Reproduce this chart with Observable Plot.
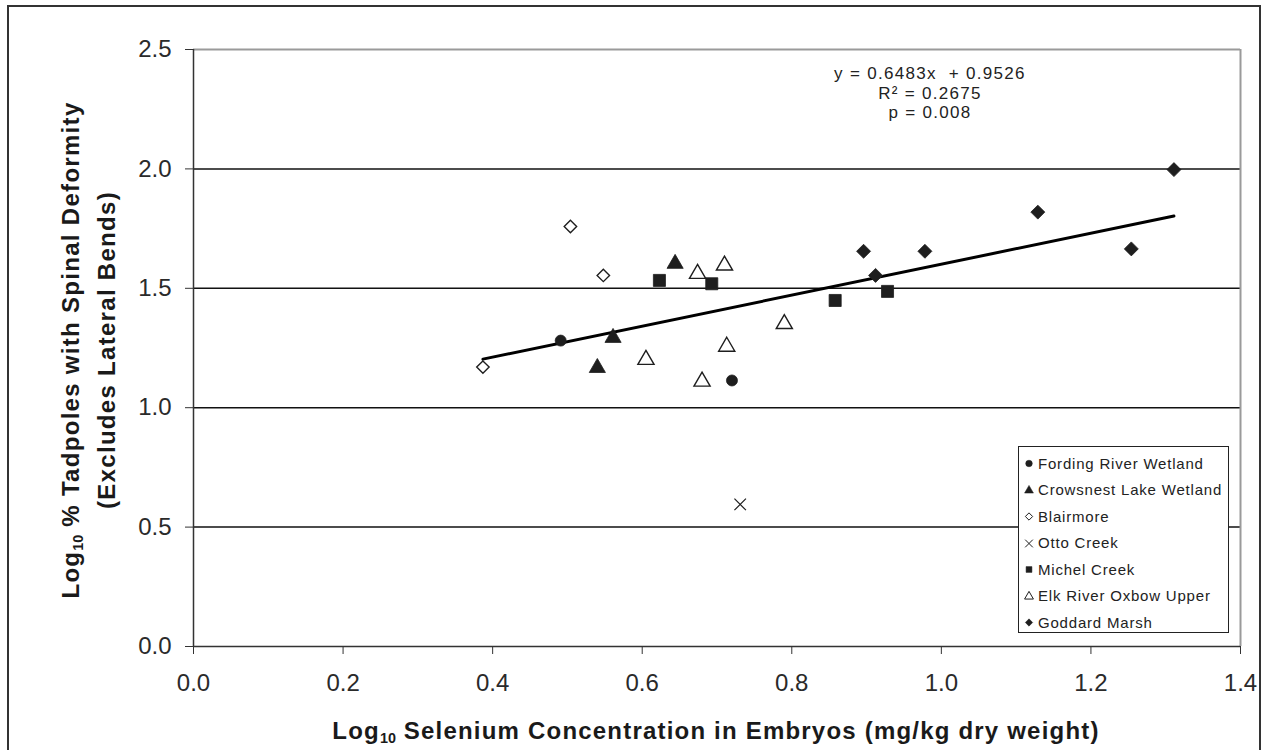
<!DOCTYPE html>
<html>
<head>
<meta charset="utf-8">
<script src="https://cdn.jsdelivr.net/npm/d3@7"></script>
<script src="https://cdn.jsdelivr.net/npm/@observablehq/plot@0.6"></script>
<style>
  html, body { margin: 0; padding: 0; background: #fff; }
  #wrap { position: relative; width: 1270px; height: 750px; overflow: hidden; font-family: "Liberation Sans", Arial, sans-serif; color: #1a1a1a; }
  #frame { position: absolute; left: 7px; top: 5px; width: 1254px; height: 760px; border: 2px solid #333; box-sizing: border-box; pointer-events: none; }
  #chart { position: absolute; left: 0; top: 0; }
  .ytitle { position: absolute; left: 0; top: 0; width: 700px; text-align: center; font-weight: bold; font-size: 24px; letter-spacing: 1.3px; transform-origin: center center; white-space: nowrap; }
  #xtitle { position: absolute; left: 166px; width: 1100px; top: 717px; text-align: center; font-weight: bold; font-size: 24px; letter-spacing: 1.2px; white-space: nowrap; }
  sub { font-size: 0.6em; vertical-align: -0.25em; line-height: 0; letter-spacing: 0; }
  #eq { position: absolute; left: 810px; top: 64px; width: 240px; text-align: center; font-size: 17px; line-height: 19.5px; white-space: pre; letter-spacing: 1.3px; color: #222; }
  #legend { position: absolute; left: 1018px; top: 446px; width: 211px; height: 187px; border: 1.5px solid #222; box-sizing: border-box; background: #fff; padding-top: 3px; }
  .lg { height: 26.5px; display: flex; align-items: center; font-size: 15px; letter-spacing: 0.8px; white-space: nowrap; color: #222; }
  .lg svg { margin-left: 5px; margin-right: 4px; }
</style>
</head>
<body>
<div id="wrap">
  <div id="chart"></div>
  <div id="eq"></div>
  <div class="ytitle" id="yt1">Log<sub>10</sub> % Tadpoles with Spinal Deformity</div>
  <div class="ytitle" id="yt2">(Excludes Lateral Bends)</div>
  <div id="xtitle">Log<sub>10</sub> Selenium Concentration in Embryos (mg/kg dry weight)</div>
  <div id="legend"></div>
  <div id="frame"></div>
</div>
<script>
// Axis ticks
const xTicks = [0, 0.2, 0.4, 0.6, 0.8, 1.0, 1.2, 1.4];
const yTicks = [0, 0.5, 1.0, 1.5, 2.0, 2.5];
const gridY = [0.5, 1.0, 1.5, 2.0];

// Sites (legend order)
const sites = ["Fording River Wetland", "Crowsnest Lake Wetland", "Blairmore", "Otto Creek",
               "Michel Creek", "Elk River Oxbow Upper", "Goddard Marsh"];

// log10 selenium in embryos (x) vs log10 % tadpoles with spinal deformity (y)
const fordingX   = [0.491, 0.720];
const fordingY   = [1.281, 1.114];
const crowsnestX = [0.540, 0.561, 0.644];
const crowsnestY = [1.167, 1.293, 1.603];
const blairmoreX = [0.387, 0.504, 0.548];
const blairmoreY = [1.170, 1.759, 1.554];
const ottoX      = [0.731];
const ottoY      = [0.595];
const michelX    = [0.623, 0.693, 0.858, 0.928];
const michelY    = [1.533, 1.519, 1.449, 1.487];
const elkX       = [0.605, 0.674, 0.680, 0.710, 0.713, 0.790];
const elkY       = [1.201, 1.561, 1.110, 1.596, 1.256, 1.351];
const goddardX   = [0.896, 0.912, 0.978, 1.129, 1.254, 1.311];
const goddardY   = [1.655, 1.554, 1.655, 1.819, 1.665, 1.997];

// Linear regression reported for all sites
const slope = 0.6483;
const intercept = 0.9526;
const rSquared = 0.2675;
const pValue = "0.008";

const seriesX = [fordingX, crowsnestX, blairmoreX, ottoX, michelX, elkX, goddardX];
const seriesY = [fordingY, crowsnestY, blairmoreY, ottoY, michelY, elkY, goddardY];

const ink = "#1e1e1e";
const markStyle = {
  "Fording River Wetland":  {symbol: "circle",   d3s: d3.symbolCircle,   filled: true,  r: 5.5},
  "Crowsnest Lake Wetland": {symbol: "triangle", d3s: d3.symbolTriangle, filled: true,  r: 6},
  "Blairmore":              {symbol: "diamond2", d3s: d3.symbolDiamond2, filled: false, r: 5.6},
  "Otto Creek":             {symbol: "times",    d3s: d3.symbolTimes,    stroked: true, r: 5.3},
  "Michel Creek":           {symbol: "square",   d3s: d3.symbolSquare,   filled: true,  r: 6.8},
  "Elk River Oxbow Upper":  {symbol: "triangle", d3s: d3.symbolTriangle, filled: false, r: 6},
  "Goddard Marsh":          {symbol: "diamond2", d3s: d3.symbolDiamond2, filled: true,  r: 6.3}
};

const points = sites.flatMap((site, i) =>
  seriesX[i].map((x, j) => ({site, x, y: seriesY[i][j]})));

const allX = points.map(d => d.x);
const trend = [d3.min(allX), d3.max(allX)].map(x => ({x, y: slope * x + intercept}));

const dotMarks = sites.map(site => {
  const s = markStyle[site];
  const data = points.filter(d => d.site === site);
  if (s.stroked) {
    return Plot.dot(data, {x: "x", y: "y", symbol: s.symbol, r: s.r, stroke: ink, strokeWidth: 1.2});
  }
  return Plot.dot(data, {x: "x", y: "y", symbol: s.symbol, r: s.r,
    fill: s.filled ? ink : "#fff", stroke: ink, strokeWidth: s.filled ? 0.8 : 1.4});
});

const chart = Plot.plot({
  width: 1270,
  height: 750,
  marginLeft: 193,
  marginRight: 30,
  marginTop: 49,
  marginBottom: 104,
  style: {fontFamily: "'Liberation Sans', Arial, sans-serif", color: "#2a2a2a", background: "transparent"},
  x: {domain: [0, 1.4], ticks: xTicks, tickFormat: d3.format(".1f")},
  y: {domain: [0, 2.5], ticks: yTicks, tickFormat: d3.format(".1f")},
  marks: [
    Plot.ruleY(gridY, {stroke: "#111", strokeWidth: 1.5}),
    Plot.ruleY([2.5], {stroke: "#9a9a9a", strokeWidth: 2}),
    Plot.ruleX([1.4], {stroke: "#9a9a9a", strokeWidth: 2}),
    Plot.axisX({ticks: xTicks, tickSize: 8, tickPadding: 19, fontSize: 24, label: null, stroke: "#333"}),
    Plot.axisY({ticks: yTicks, tickSize: 8, tickPadding: 14, fontSize: 24, label: null, stroke: "#333"}),
    Plot.ruleY([0], {stroke: "#333", strokeWidth: 1.5}),
    Plot.ruleX([0], {stroke: "#333", strokeWidth: 1.5}),
    Plot.line(trend, {x: "x", y: "y", stroke: "#000", strokeWidth: 3}),
    ...dotMarks
  ]
});
document.getElementById("chart").append(chart);

// Regression annotation
document.getElementById("eq").textContent =
  `y = ${slope}x  + ${intercept}\nR\u00b2 = ${rSquared}\np = ${pValue}`;

// Rotated y-axis title lines
const yt1 = document.getElementById("yt1");
const yt2 = document.getElementById("yt2");
yt1.style.transform = "translate(-279px, 336px) rotate(-90deg)";
yt2.style.transform = "translate(-243px, 336px) rotate(-90deg)";

// Legend
const legend = d3.select("#legend");
sites.forEach(site => {
  const s = markStyle[site];
  const row = legend.append("div").attr("class", "lg");
  const svg = row.append("svg").attr("width", 10).attr("height", 12);
  const path = svg.append("path")
    .attr("transform", "translate(5,6.5)")
    .attr("d", d3.symbol(s.d3s, s.d3s === d3.symbolTimes ? 40 : 34)());
  if (s.stroked) path.attr("fill", "none").attr("stroke", ink).attr("stroke-width", 1);
  else path.attr("fill", s.filled ? ink : "#fff").attr("stroke", ink).attr("stroke-width", s.filled ? 0.5 : 1);
  row.append("span").text(site);
});
</script>
</body>
</html>
